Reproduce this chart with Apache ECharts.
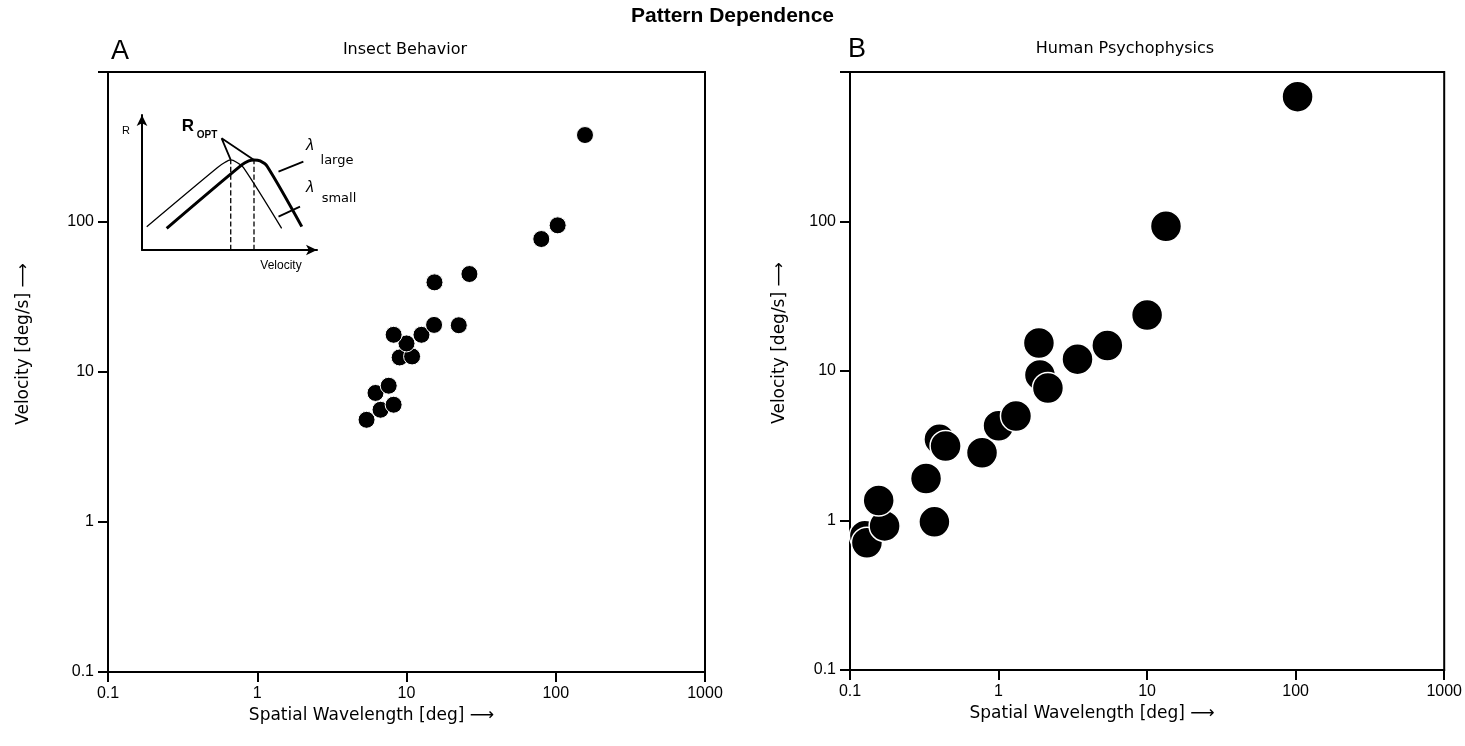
<!DOCTYPE html>
<html>
<head>
<meta charset="utf-8">
<title>Pattern Dependence</title>
<script src="https://cdn.jsdelivr.net/npm/echarts@6/dist/echarts.min.js"></script>
<style>html,body{margin:0;padding:0;background:#fff;}</style>
</head>
<body>
<div id="main" style="width:1465px;height:746px;"></div>
<script>
// panel A - insect behavior (spatial wavelength deg, velocity deg/s)
var insectX = [5.4, 6.7, 8.2, 6.2, 7.6, 9.0, 10.9, 10, 8.2, 12.6, 15.3, 22.4, 15.4, 26.4, 80, 103, 157];
var insectY = [4.8, 5.6, 6.05, 7.25, 8.1, 12.5, 12.7, 15.5, 17.7, 17.7, 20.6, 20.5, 39.6, 45, 77, 95, 380];

// panel B - human psychophysics
var humanX = [0.126, 0.13, 0.171, 0.156, 0.37, 0.325, 0.40, 0.44, 0.774, 1.0, 1.31, 1.87, 1.9, 2.15, 3.4, 5.4, 10, 13.4, 103];
var humanY = [0.79, 0.71, 0.92, 1.36, 0.98, 1.91, 3.49, 3.15, 2.84, 4.3, 5.0, 15.4, 9.4, 7.7, 12.0, 14.8, 23.7, 93, 684];

// inset sketch (arbitrary units)
var thinCurveX = [0.27, 4.3, 4.75, 5.07, 5.4, 5.8, 7.98];
var thinCurveY = [1.73, 6.1, 6.5, 6.67, 6.5, 6.1, 1.6];
var thickCurveX = [1.41, 5.7, 6.1, 6.4, 6.75, 7.15, 9.13];
var thickCurveY = [1.6, 6.3, 6.6, 6.67, 6.6, 6.2, 1.73];
var optX = [5.07, 6.4];
var optY = 6.67;
var optLabelPt = [4.55, 8.27];
var largePointer = [[7.8, 5.8], [9.22, 6.54]];
var smallPointer = [[7.8, 2.47], [9.03, 3.21]];

var xTickLabels = ['0.1', '1', '10', '100', '1000'];
var yTickLabels = ['0.1', '1', '10', '100', ''];

var FONT = '"Liberation Sans", Arial, Helvetica, sans-serif';
var WIDE = '"DejaVu Sans", "Liberation Sans", sans-serif';

function pairs(xs, ys) {
    return xs.map(function (x, i) { return [x, ys[i]]; });
}

function logAxis(grid, name, isY, gap, pad) {
    var labels = isY ? yTickLabels : xTickLabels;
    return {
        type: 'log', logBase: 10, gridIndex: grid, min: 0.1, max: 1000,
        name: name, nameLocation: 'middle', nameGap: gap, nameRotate: isY ? 90 : 0,
        nameTextStyle: { fontFamily: WIDE, fontSize: 17, color: '#000', padding: pad },
        axisLine: { show: true, onZero: false, lineStyle: { color: '#000', width: 2 } },
        axisTick: { show: true, length: 10, lineStyle: { color: '#000', width: 2 } },
        minorTick: { show: false },
        axisLabel: {
            fontFamily: FONT, fontSize: 16, color: '#000', margin: 14,
            formatter: function (v) {
                var i = Math.round(Math.log10(v)) + 1;
                return labels[i] !== undefined ? labels[i] : '';
            }
        },
        splitLine: { show: false }
    };
}

function insetAxis(grid) {
    return {
        type: 'value', gridIndex: grid, min: 0, max: 10,
        axisLine: { show: true, symbol: ['none', 'arrow'], symbolSize: [8, 11], lineStyle: { color: '#000', width: 2 } },
        axisTick: { show: false }, axisLabel: { show: false }, splitLine: { show: false }
    };
}

function plainLine(data, width, type, smooth) {
    return {
        type: 'line', xAxisIndex: 2, yAxisIndex: 2, data: data, symbol: 'none',
        silent: true, animation: false, smooth: smooth || false,
        lineStyle: { color: '#000', width: width, type: type || 'solid' }
    };
}

var chart = echarts.init(document.getElementById('main'));

var option = {
    backgroundColor: '#fff',
    animation: false,
    title: [
        { text: 'Pattern Dependence', left: 'center', top: 6, padding: 0,
          textStyle: { fontFamily: FONT, fontSize: 21, fontWeight: 'bold', color: '#000' } },
        { text: 'Insect Behavior', left: 405, top: 42, padding: 0, textAlign: 'center',
          textStyle: { fontFamily: WIDE, fontSize: 16, fontWeight: 'normal', color: '#000' } },
        { text: 'Human Psychophysics', left: 1125, top: 41, padding: 0, textAlign: 'center',
          textStyle: { fontFamily: WIDE, fontSize: 16, fontWeight: 'normal', color: '#000' } },
        { text: 'A', left: 111, top: 38, padding: 0,
          textStyle: { fontFamily: FONT, fontSize: 27, fontWeight: 'normal', color: '#000' } },
        { text: 'B', left: 848, top: 36, padding: 0,
          textStyle: { fontFamily: FONT, fontSize: 27, fontWeight: 'normal', color: '#000' } }
    ],
    grid: [
        { left: 108, top: 72, width: 597, height: 600, show: true, borderColor: '#000', borderWidth: 2, backgroundColor: 'transparent' },
        { left: 850, top: 72, width: 599, height: 598, show: true, borderColor: '#000', borderWidth: 2, backgroundColor: 'transparent' },
        { left: 142, top: 115, width: 175, height: 135 }
    ],
    xAxis: [
        logAxis(0, 'Spatial Wavelength [deg] ⟶', false, 35, [0, 70, 0, 0]),
        logAxis(1, 'Spatial Wavelength [deg] ⟶', false, 35, [0, 110, 0, 0]),
        insetAxis(2)
    ],
    yAxis: [
        logAxis(0, 'Velocity [deg/s] ⟶', true, 76, [0, 0, 0, 56]),
        logAxis(1, 'Velocity [deg/s] ⟶', true, 62, [0, 0, 0, 56]),
        insetAxis(2)
    ],
    series: [
        {
            name: 'Insect Behavior', type: 'scatter', xAxisIndex: 0, yAxisIndex: 0,
            data: pairs(insectX, insectY), symbolSize: 17,
            itemStyle: { color: '#000', borderColor: '#fff', borderWidth: 1, opacity: 1 }
        },
        {
            name: 'Human Psychophysics', type: 'scatter', xAxisIndex: 1, yAxisIndex: 1,
            data: pairs(humanX, humanY), symbolSize: 31,
            itemStyle: { color: '#000', borderColor: '#fff', borderWidth: 1.5, opacity: 1 }
        },
        plainLine(pairs(thinCurveX, thinCurveY), 1.3, 'solid', 0.3),
        plainLine(pairs(thickCurveX, thickCurveY), 3, 'solid', 0.3),
        plainLine([[optX[0], 0], [optX[0], optY]], 1.3, 'dashed'),
        plainLine([[optX[1], 0], [optX[1], optY]], 1.3, 'dashed'),
        plainLine([[optX[0], optY], optLabelPt, [optX[1], optY]], 1.8),
        plainLine(largePointer, 1.8),
        plainLine(smallPointer, 1.8)
    ],
    graphic: [
        { type: 'text', x: 126, y: 131, style: { text: 'R', font: '11px ' + FONT, fill: '#000', align: 'center', verticalAlign: 'middle' } },
        { type: 'text', x: 188, y: 126, style: { text: 'R', font: 'bold 17px ' + FONT, fill: '#000', align: 'center', verticalAlign: 'middle' } },
        { type: 'text', x: 207, y: 135, style: { text: 'OPT', font: 'bold 10px ' + FONT, fill: '#000', align: 'center', verticalAlign: 'middle' } },
        { type: 'text', x: 310, y: 146, style: { text: 'λ', font: 'italic 16px ' + FONT, fill: '#000', align: 'center', verticalAlign: 'middle' } },
        { type: 'text', x: 337, y: 161, style: { text: 'large', font: '13px ' + WIDE, fill: '#000', align: 'center', verticalAlign: 'middle' } },
        { type: 'text', x: 310, y: 188, style: { text: 'λ', font: 'italic 16px ' + FONT, fill: '#000', align: 'center', verticalAlign: 'middle' } },
        { type: 'text', x: 339, y: 199, style: { text: 'small', font: '13px ' + WIDE, fill: '#000', align: 'center', verticalAlign: 'middle' } },
        { type: 'text', x: 281, y: 266, style: { text: 'Velocity', font: '12px ' + FONT, fill: '#000', align: 'center', verticalAlign: 'middle' } }
    ]
};

chart.setOption(option);
</script>
</body>
</html>
